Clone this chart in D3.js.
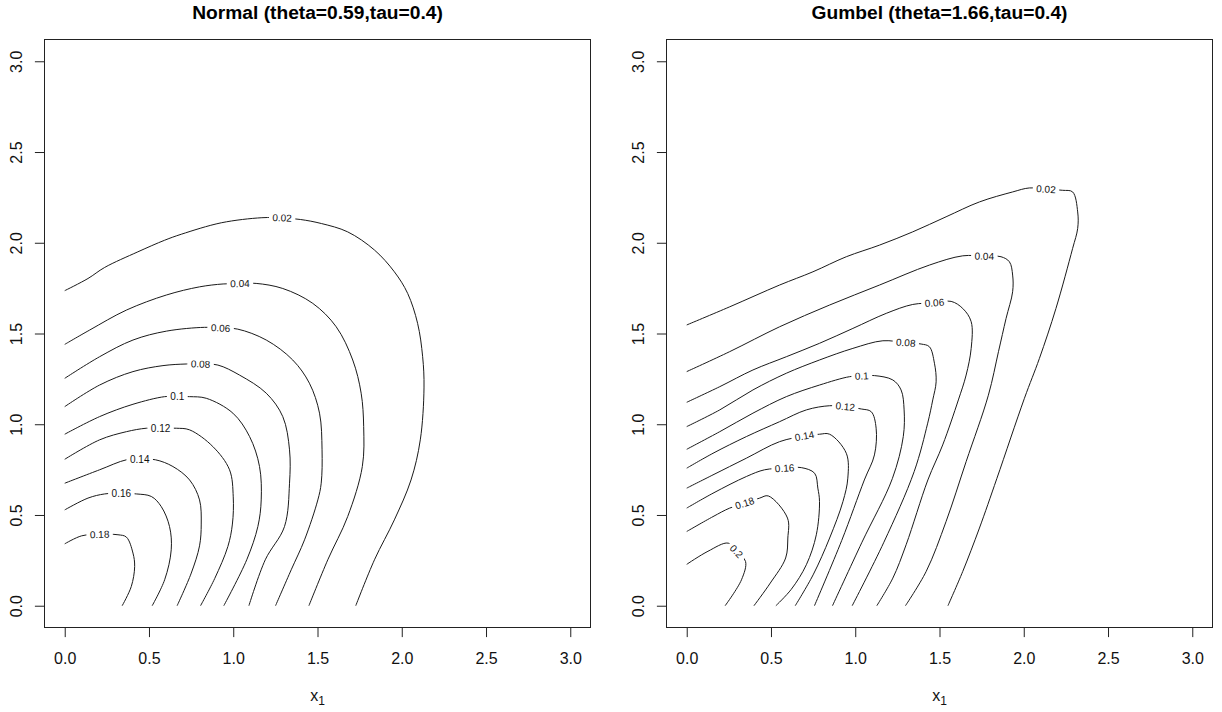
<!DOCTYPE html>
<html>
<head>
<meta charset="utf-8">
<script src="https://cdn.jsdelivr.net/npm/d3@7"></script>
<style>
  html, body { margin: 0; padding: 0; background: #fff; }
  svg { display: block; font-family: "Liberation Sans", Arial, sans-serif; }
</style>
</head>
<body>
<svg id="chart" width="1222" height="712"></svg>
<script>
// Axis ticks and panel titles
const xTicks = [0, 0.5, 1, 1.5, 2, 2.5, 3];
const yTicks = [0, 0.5, 1, 1.5, 2, 2.5, 3];
const titles = ["Normal (theta=0.59,tau=0.4)", "Gumbel (theta=1.66,tau=0.4)"];

// Normal copula density: contour levels, traced level curves [x1, x2], label point index
const normalLevels = [0.02, 0.04, 0.06, 0.08, 0.1, 0.12, 0.14, 0.16, 0.18];
const normalLines = [
  [[0,1.736],[0.138,1.803],[0.237,1.864],[0.434,1.950],[0.593,2.014],[0.692,2.047],[0.929,2.110],[1.17,2.138],[1.29,2.137],[1.40,2.128],[1.523,2.106],[1.679,2.060],[1.838,1.960],[1.956,1.840],[2.035,1.721],[2.094,1.556],[2.124,1.372],[2.132,1.20],[2.11,0.914],[2.055,0.693],[1.956,0.473],[1.838,0.253],[1.727,0]],
  [[0,1.440],[0.148,1.519],[0.366,1.629],[0.603,1.712],[0.800,1.757],[0.94,1.773],[1.04,1.775],[1.136,1.776],[1.294,1.748],[1.472,1.666],[1.611,1.537],[1.709,1.354],[1.759,1.171],[1.774,0.987],[1.766,0.767],[1.679,0.491],[1.561,0.253],[1.449,0]],
  [[0,1.253],[0.207,1.372],[0.405,1.464],[0.603,1.513],[0.83,1.534],[0.925,1.530],[1.027,1.524],[1.196,1.464],[1.353,1.354],[1.452,1.226],[1.512,1.061],[1.527,0.859],[1.522,0.675],[1.502,0.583],[1.423,0.363],[1.344,0.198],[1.251,0]],
  [[0,1.097],[0.207,1.216],[0.405,1.290],[0.583,1.323],[0.721,1.332],[0.806,1.332],[0.909,1.326],[1.037,1.271],[1.196,1.171],[1.294,1.042],[1.334,0.859],[1.334,0.675],[1.304,0.436],[1.19,0.253],[1.093,0]],
  [[0,0.945],[0.207,1.042],[0.405,1.110],[0.593,1.152],[0.668,1.152],[0.741,1.152],[0.840,1.143],[0.998,1.061],[1.097,0.932],[1.156,0.767],[1.166,0.583],[1.146,0.436],[1.08,0.253],[0.944,0]],
  [[0,0.807],[0.207,0.914],[0.366,0.959],[0.484,0.978],[0.569,0.978],[0.662,0.978],[0.741,0.969],[0.879,0.877],[0.978,0.749],[1.0,0.60],[0.995,0.45],[0.968,0.326],[0.89,0.15],[0.806,0]],
  [[0,0.675],[0.207,0.749],[0.366,0.804],[0.445,0.807],[0.539,0.804],[0.642,0.767],[0.741,0.693],[0.800,0.583],[0.810,0.45],[0.800,0.33],[0.751,0.180],[0.667,0]],
  [[0,0.528],[0.138,0.593],[0.237,0.616],[0.336,0.620],[0.425,0.616],[0.514,0.602],[0.573,0.546],[0.622,0.436],[0.632,0.308],[0.593,0.143],[0.519,0]],
  [[0,0.341],[0.10,0.385],[0.207,0.393],[0.316,0.391],[0.366,0.378],[0.405,0.290],[0.415,0.216],[0.395,0.106],[0.341,0]]
];
const normalLabelIdx = [8, 6, 5, 5, 4, 4, 3, 3, 2];

// Gumbel copula density: contour levels, traced level curves [x1, x2], label point index
const gumbelLevels = [0.02, 0.04, 0.06, 0.08, 0.1, 0.12, 0.14, 0.16, 0.18, 0.2];
const gumbelLines = [
  [[0,1.547],[0.255,1.647],[0.551,1.767],[0.749,1.840],[0.947,1.923],[1.144,1.987],[1.341,2.060],[1.539,2.143],[1.737,2.225],[1.934,2.280],[2.033,2.302],[2.132,2.295],[2.231,2.289],[2.290,2.280],[2.320,2.170],[2.320,2.079],[2.290,1.969],[2.191,1.638],[2.093,1.363],[2.004,1.143],[1.84,0.70],[1.737,0.428],[1.638,0.189],[1.550,0]],
  [[0,1.290],[0.255,1.400],[0.551,1.537],[0.848,1.657],[1.144,1.767],[1.440,1.877],[1.638,1.928],[1.766,1.926],[1.865,1.923],[1.915,1.895],[1.934,1.822],[1.934,1.730],[1.895,1.583],[1.85,1.40],[1.79,1.16],[1.658,0.794],[1.539,0.464],[1.421,0.189],[1.298,0]],
  [[0,1.121],[0.196,1.207],[0.393,1.299],[0.591,1.372],[0.788,1.446],[0.986,1.528],[1.184,1.611],[1.341,1.660],[1.470,1.669],[1.569,1.677],[1.638,1.638],[1.688,1.565],[1.688,1.418],[1.658,1.271],[1.612,1.134],[1.519,0.886],[1.431,0.693],[1.302,0.336],[1.223,0.152],[1.128,0]],
  [[0,0.987],[0.196,1.079],[0.393,1.189],[0.591,1.281],[0.788,1.354],[0.986,1.418],[1.164,1.460],[1.300,1.449],[1.391,1.442],[1.440,1.427],[1.470,1.336],[1.480,1.234],[1.460,1.134],[1.43,1.006],[1.35,0.74],[1.17,0.35],[0.982,0]],
  [[0,0.862],[0.196,0.959],[0.393,1.061],[0.591,1.152],[0.788,1.216],[0.966,1.262],[1.039,1.266],[1.114,1.268],[1.223,1.244],[1.272,1.189],[1.290,1.079],[1.285,0.932],[1.22,0.70],[1.04,0.35],[0.865,0]],
  [[0,0.758],[0.156,0.840],[0.354,0.932],[0.551,1.014],[0.710,1.079],[0.848,1.102],[0.941,1.097],[1.036,1.084],[1.095,1.069],[1.124,0.978],[1.114,0.831],[1.054,0.693],[0.92,0.36],[0.758,0]],
  [[0,0.648],[0.156,0.721],[0.354,0.813],[0.551,0.904],[0.699,0.935],[0.788,0.945],[0.848,0.945],[0.947,0.840],[0.956,0.703],[0.927,0.574],[0.848,0.373],[0.75,0.17],[0.644,0]],
  [[0,0.538],[0.156,0.620],[0.354,0.712],[0.462,0.749],[0.581,0.758],[0.680,0.761],[0.759,0.730],[0.778,0.648],[0.788,0.574],[0.769,0.391],[0.710,0.226],[0.62,0.09],[0.529,0]],
  [[0,0.409],[0.156,0.491],[0.255,0.538],[0.344,0.565],[0.433,0.593],[0.484,0.605],[0.598,0.483],[0.600,0.373],[0.587,0.263],[0.496,0.125],[0.399,0]],
  [[0,0.228],[0.126,0.30],[0.246,0.345],[0.295,0.299],[0.349,0.244],[0.325,0.143],[0.228,0]]
];
const gumbelLabelIdx = [11, 7, 8, 7, 6, 6, 4, 4, 3, 3];

const svg = d3.select("#chart");
svg.append("rect").attr("width", 1222).attr("height", 712).attr("fill", "#fff");

const plotW = 546, plotH = 588, plotTop = 39.5;
const panelLeft = [44.5, 666.5];
const lim = [-0.12, 3.12];

function drawPanel(i, levels, lines, labelIdx) {
  const x0 = panelLeft[i];
  const x = d3.scaleLinear().domain(lim).range([x0, x0 + plotW]);
  const y = d3.scaleLinear().domain(lim).range([plotTop + plotH, plotTop]);
  const g = svg.append("g");

  // level curves
  const line = d3.line()
    .x(d => x(d[0]))
    .y(d => y(d[1]))
    .curve(d3.curveCatmullRom.alpha(0.5));

  g.append("g").selectAll("path")
    .data(lines)
    .join("path")
    .attr("d", line)
    .attr("fill", "none")
    .attr("stroke", "#1a1a1a")
    .attr("stroke-width", 1);

  // inline level labels, turned along the curve, with a gap cut in the line
  lines.forEach((pts, k) => {
    const j = labelIdx[k];
    const p = pts[j], a = pts[j - 1], b = pts[j + 1];
    let ang = Math.atan2(y(b[1]) - y(a[1]), x(b[0]) - x(a[0])) * 180 / Math.PI;
    if (ang > 90) ang -= 180;
    if (ang < -90) ang += 180;
    const lg = g.append("g")
      .attr("transform", `translate(${x(p[0])},${y(p[1])}) rotate(${ang})`);
    const bg = lg.append("rect").attr("fill", "#fff");
    const t = lg.append("text")
      .attr("text-anchor", "middle")
      .attr("dy", "0.35em")
      .attr("font-size", 10)
      .attr("fill", "#111")
      .text(String(levels[k]));
    const w = t.node().getComputedTextLength();
    bg.attr("x", -w / 2 - 3.5).attr("y", -5).attr("width", w + 7).attr("height", 10);
  });

  // frame
  g.append("rect")
    .attr("x", x0).attr("y", plotTop)
    .attr("width", plotW).attr("height", plotH)
    .attr("fill", "none").attr("stroke", "#222").attr("stroke-width", 1);

  // bottom axis
  g.append("g")
    .attr("transform", `translate(0,${plotTop + plotH})`)
    .call(d3.axisBottom(x).tickValues(xTicks).tickFormat(d3.format(".1f")).tickSize(9.6))
    .call(s => s.select(".domain").remove())
    .call(s => s.selectAll(".tick line").attr("stroke", "#222"))
    .call(s => s.selectAll(".tick text")
      .attr("y", 36.5).attr("dy", 0)
      .attr("font-size", 16)
      .attr("font-family", "Liberation Sans, Arial, sans-serif")
      .attr("fill", "#111"));

  // left axis with labels running upward
  g.append("g")
    .attr("transform", `translate(${x0},0)`)
    .call(d3.axisLeft(y).tickValues(yTicks).tickFormat(d3.format(".1f")).tickSize(9.6))
    .call(s => s.select(".domain").remove())
    .call(s => s.selectAll(".tick line").attr("stroke", "#222"))
    .call(s => s.selectAll(".tick text")
      .attr("transform", "rotate(-90)")
      .attr("x", 0).attr("y", -22.5).attr("dy", 0)
      .attr("text-anchor", "middle")
      .attr("font-size", 16)
      .attr("font-family", "Liberation Sans, Arial, sans-serif")
      .attr("fill", "#111"));

  // title
  svg.append("text")
    .attr("x", x0 + plotW / 2).attr("y", 19)
    .attr("text-anchor", "middle")
    .attr("font-size", 19.2)
    .attr("font-weight", "bold")
    .attr("fill", "#000")
    .text(titles[i]);

  // x axis label x1
  const xl = svg.append("text")
    .attr("x", x0 + plotW / 2).attr("y", 701)
    .attr("text-anchor", "middle")
    .attr("font-size", 16)
    .attr("fill", "#111");
  xl.append("tspan").text("x");
  xl.append("tspan").attr("font-size", 12).attr("dy", 4).text("1");
}

drawPanel(0, normalLevels, normalLines, normalLabelIdx);
drawPanel(1, gumbelLevels, gumbelLines, gumbelLabelIdx);
</script>
</body>
</html>
